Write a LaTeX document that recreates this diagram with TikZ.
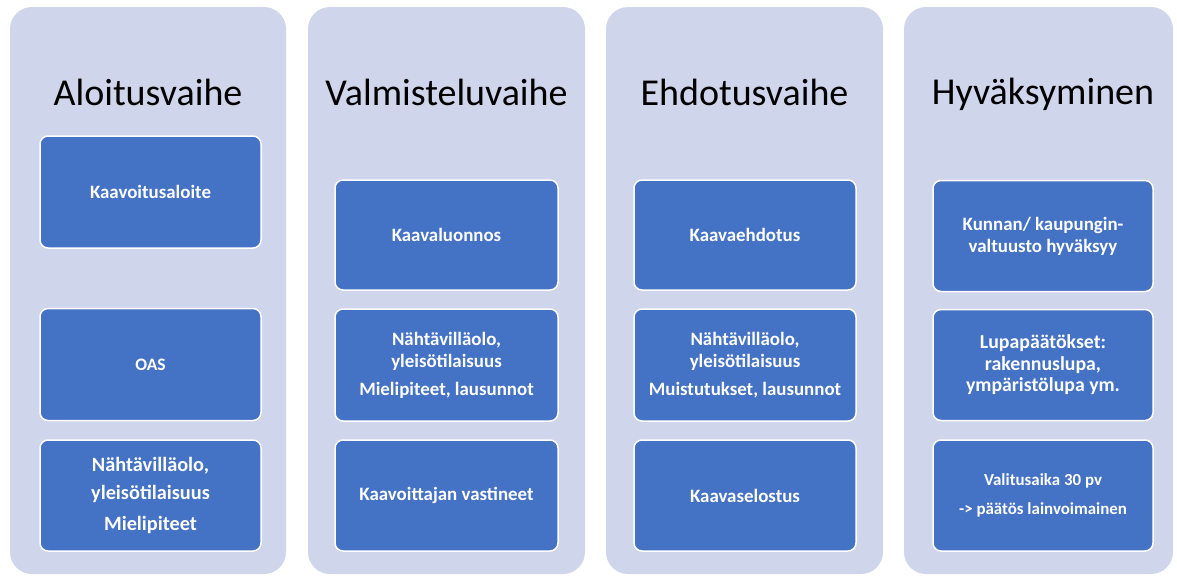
\documentclass[tikz,border=0pt]{standalone}
\usepackage{fontspec}
\setmainfont{Carlito}
\definecolor{lav}{HTML}{CFD5EA}
\definecolor{blu}{HTML}{4472C4}
\begin{document}
\begin{tikzpicture}[x=1pt,y=-1pt,
  colbox/.style={fill=lav, draw=none, rounded corners=22pt, inner sep=0pt, minimum width=#1},
  title/.style={anchor=base, text=black, font=\fontsize{38}{44}\selectfont, inner sep=0pt},
  stepbox/.style={fill=blu, draw=white, line width=1.5pt, rounded corners=8pt, inner sep=0pt,
    text=white, align=center, font=\bfseries\fontsize{18.9}{22}\selectfont},
]
\useasboundingbox (0,0) rectangle (1177,576);
% columns
\node[colbox=276pt, minimum height=567pt] (c1) at (148,290.5) {};
\node[colbox=277pt, minimum height=567pt] (c2) at (446.5,290.5) {};
\node[colbox=277pt, minimum height=567pt] (c3) at (744.5,290.5) {};
\node[colbox=269pt, minimum height=567pt] (c4) at (1038.5,290.5) {};
% titles
\node[title] (t1) at (148,105) {Aloitusvaihe};
\node[title] (t2) at (446.5,105) {Valmisteluvaihe};
\node[title] (t3) at (744.5,105) {Ehdotusvaihe};
\node[title] (t4) at (1043,104) {Hyväksyminen};
% column 1
\node[stepbox, minimum width=221pt, minimum height=112pt] (a1) at (150.5,192) {Kaavoitusaloite};
\node[stepbox, minimum width=221pt, minimum height=112pt, font=\bfseries\fontsize{17.5}{21}\selectfont] (a2) at (150.5,364.5) {OAS};
\node[stepbox, minimum width=221pt, minimum height=111pt, font=\bfseries\fontsize{20.3}{28}\selectfont] (a3) at (150.5,495.5) {\raisebox{3pt}{\parbox{200pt}{\centering Nähtävilläolo,\\yleisötilaisuus\\[3pt]Mielipiteet}}};
% column 2
\node[stepbox, minimum width=223pt, minimum height=110pt] (b1) at (446.5,235) {Kaavaluonnos};
\node[stepbox, minimum width=223pt, minimum height=112pt] (b2) at (446.5,365) {\raisebox{-3pt}{\parbox{210pt}{\centering Nähtävilläolo,\\yleisötilaisuus\\[6pt]Mielipiteet, lausunnot}}};
\node[stepbox, minimum width=223pt, minimum height=111pt] (b3) at (446.5,495.5) {Kaavoittajan vastineet};
% column 3
\node[stepbox, minimum width=222pt, minimum height=110pt] (e1) at (745,235) {Kaavaehdotus};
\node[stepbox, minimum width=222pt, minimum height=112pt] (e2) at (745,365) {\raisebox{-3pt}{\parbox{210pt}{\centering Nähtävilläolo,\\yleisötilaisuus\\[6pt]Muistutukset, lausunnot}}};
\node[stepbox, minimum width=222pt, minimum height=111pt] (e3) at (745,495.5) {Kaavaselostus};
% column 4
\node[stepbox, minimum width=220pt, minimum height=111pt, font=\bfseries\fontsize{18.9}{22}\selectfont] (h1) at (1043,236) {Kunnan/ kaupungin-\\valtuusto hyväksyy};
\node[stepbox, minimum width=220pt, minimum height=111pt, font=\bfseries\fontsize{19.8}{21.5}\selectfont] (h2) at (1043,365) {Lupapäätökset:\\rakennuslupa,\\ympäristölupa ym.};
\node[stepbox, minimum width=220pt, minimum height=111pt, font=\bfseries\fontsize{16.9}{20}\selectfont] (h3) at (1043,495.5) {Valitusaika 30 pv\\[9pt]-> päätös lainvoimainen};
\end{tikzpicture}
\end{document}
